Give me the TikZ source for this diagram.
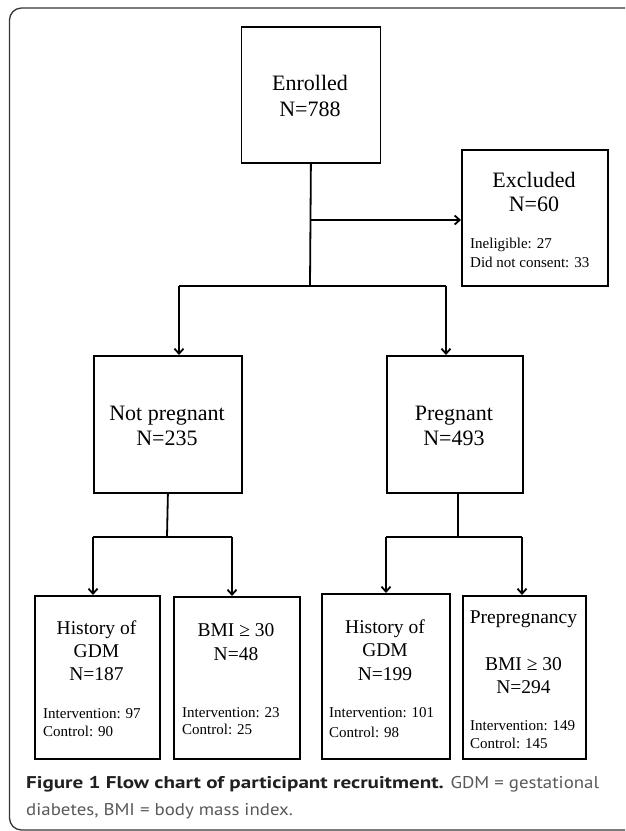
\documentclass[tikz,border=0pt]{standalone}
\usepackage{fontspec}
\setmainfont{Liberation Serif}
\newfontfamily\capfont[FakeStretch=1.11,BoldFeatures={FakeStretch=1.24}]{PT Sans}
\usetikzlibrary{arrows.meta}
\definecolor{capgray}{RGB}{88,89,91}
\definecolor{capblack}{RGB}{35,31,32}
\definecolor{framegray}{RGB}{55,55,55}
\begin{document}
\begin{tikzpicture}[x=1pt,y=-1pt,
  box/.style={draw=black,line width=1.8pt,inner sep=0pt,anchor=north west},
  big/.style={font=\fontsize{22}{26}\selectfont,anchor=base,inner sep=0pt},
  mid/.style={font=\fontsize{19.5}{22.5}\selectfont,anchor=base,inner sep=0pt},
  small/.style={font=\fontsize{15}{18}\selectfont,anchor=base west,inner sep=0pt},
  conn/.style={line width=1.8pt},
  arr/.style={line width=1.8pt,-{Straight Barb[length=5pt,width=9pt]}},
  captext/.style={anchor=base west,inner sep=0pt,font=\capfont\fontsize{17}{27}\selectfont}
]
\useasboundingbox (0,0) rectangle (625,831);
\fill[white] (0,0) rectangle (625,831);
\begin{scope}
\clip (0,0) rectangle (625,831);
\draw[framegray,line width=1.3pt,rounded corners=12pt] (9.5,8) rectangle (660,830);
\end{scope}

% boxes
\node[box,minimum width=139pt,minimum height=136pt] (enr) at (240.5,26) {};
\node[box,minimum width=146pt,minimum height=136pt] (exc) at (461,149) {};
\node[box,minimum width=148pt,minimum height=137pt] (np) at (93,355) {};
\node[box,minimum width=136pt,minimum height=137pt] (pg) at (386,355) {};
\node[box,minimum width=125pt,minimum height=163pt] (h1) at (34,595) {};
\node[box,minimum width=126pt,minimum height=162pt] (b1) at (173,596) {};
\node[box,minimum width=128pt,minimum height=165pt] (h2) at (321,593) {};
\node[box,minimum width=123pt,minimum height=163pt] (b2) at (462,595) {};

% texts
\node[big] (t1) at (310,90) {Enrolled};
\node[big] (t2) at (310,116) {N=788};
\node[big] (t3) at (534,187) {Excluded};
\node[big] (t4) at (534,211) {N=60};
\node[small] (t5) at (470,248) {Ineligible: 27};
\node[small] (t6) at (470,267) {Did not consent: 33};
\node[big] (t7) at (167,420) {Not pregnant};
\node[big] (t8) at (167,445) {N=235};
\node[big] (t9) at (454,420) {Pregnant};
\node[big] (t10) at (454,445) {N=493};

\node[mid] (u1) at (96.5,634) {History of};
\node[mid] (u2) at (96.5,657) {GDM};
\node[mid] (u3) at (96.5,680) {N=187};
\node[small] (u4) at (43,718) {Intervention: 97};
\node[small] (u5) at (43,736) {Control: 90};

\node[mid] (v1) at (236,636) {BMI ≥ 30};
\node[mid] (v2) at (236,660) {N=48};
\node[small] (v3) at (182,717) {Intervention: 23};
\node[small] (v4) at (182,734) {Control: 25};

\node[mid] (w1) at (385,633) {History of};
\node[mid] (w2) at (385,656) {GDM};
\node[mid] (w3) at (385,680) {N=199};
\node[small] (w4) at (329,717) {Intervention: 101};
\node[small] (w5) at (329,737) {Control: 98};

\node[mid] (z1) at (523.5,623) {Prepregnancy};
\node[mid] (z2) at (523.5,670) {BMI ≥ 30};
\node[mid] (z3) at (523.5,693) {N=294};
\node[small] (z4) at (470,730) {Intervention: 149};
\node[small] (z5) at (470,748) {Control: 145};

% connectors
\coordinate (ja) at (310,220);
\coordinate (jb) at (310,286);
\coordinate (la) at (179,286);
\coordinate (ra) at (446,286);
\draw[conn] (enr.south) -- (jb);
\draw[arr] (ja) -- (ja -| exc.west);
\draw[conn] (la) -- (ra);
\draw[arr] (la) -- (la |- np.north);
\draw[arr] (ra) -- (ra |- pg.north);

\coordinate (npj) at (167,537);
\coordinate (l1) at (93,537);
\coordinate (l2) at (232,537);
\draw[conn] (np.south) -- (npj);
\draw[conn] (l1) -- (l2);
\draw[arr] (l1) -- (l1 |- h1.north);
\draw[arr] (l2) -- (l2 |- b1.north);

\coordinate (pgj) at (458,537);
\coordinate (r1) at (386,537);
\coordinate (r2) at (522,537);
\draw[conn] (pgj |- pg.south) -- (pgj);
\draw[conn] (r1) -- (r2);
\draw[arr] (r1) -- (r1 |- h2.north);
\draw[arr] (r2) -- (r2 |- b2.north);

% caption
\node[captext] (c1) at (26,788) {{\bfseries\color{capblack}Figure 1 Flow chart of participant recruitment.} {\color{capgray}GDM = gestational}};
\node[captext,text=capgray] (c2) at (26,815) {diabetes, BMI = body mass index.};
\end{tikzpicture}
\end{document}
